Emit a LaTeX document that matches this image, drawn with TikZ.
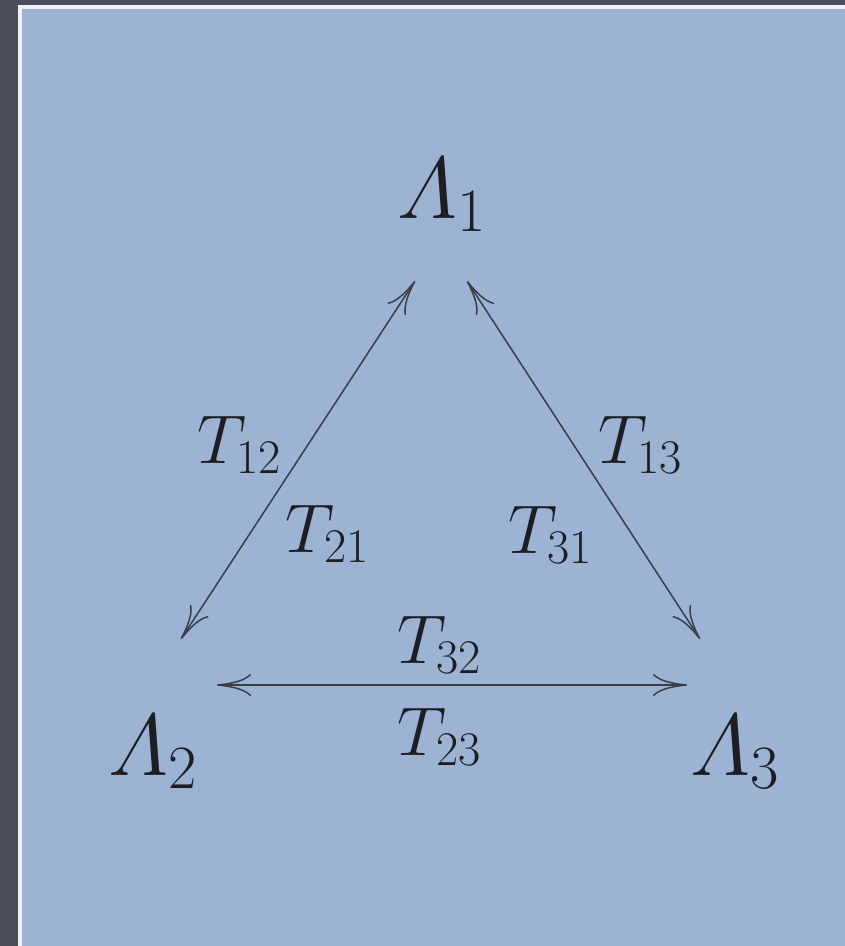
\RequirePackage{fix-cm}
\documentclass[tikz,border=0pt]{standalone}
\usepackage{amsmath}
\usetikzlibrary{arrows.meta}
\definecolor{bgdark}{HTML}{4B4F5D}
\definecolor{panel}{HTML}{9DB3D4}
\definecolor{frameline}{HTML}{EEF1F6}
\definecolor{ink}{HTML}{1C1E24}
\definecolor{wire}{HTML}{3A3E48}
\begin{document}
\begin{tikzpicture}[x=1pt,y=-1pt,
  lam/.style={anchor=base west,inner sep=0pt,text=ink,font=\fontsize{88}{100}\selectfont},
  tlab/.style={anchor=base west,inner sep=0pt,text=ink,font=\fontsize{69}{80}\selectfont},
  link/.style={draw=wire,line width=1.5pt,
    arrows={Computer Modern Rightarrow[length=34pt,width=22pt]-Computer Modern Rightarrow[length=34pt,width=22pt]}}]
\useasboundingbox (0,0) rectangle (845,946);
\fill[bgdark] (0,0) rectangle (845,946);
\fill[frameline] (18,5) rectangle (845,946);
\fill[panel] (22,9) rectangle (845,946);

\node[lam] (L1) at (397,218) {$\varLambda_1$};
\node[lam] (L2) at (108,775) {$\varLambda_2$};
\node[lam] (L3) at (690,775) {$\varLambda_3$};

\node[tlab] (T12) at (197,463) {$T_{12}$};
\node[tlab] (T21) at (285,552) {$T_{21}$};
\node[tlab] (T13) at (598,463) {$T_{13}$};
\node[tlab] (T31) at (508,553) {$T_{31}$};
\node[tlab] (T32) at (397,663) {$T_{32}$};
\node[tlab] (T23) at (397,755) {$T_{23}$};

\coordinate (e12a) at (415,281);
\coordinate (e12b) at (181,639);
\coordinate (e13a) at (467,281);
\coordinate (e13b) at (700,639);
\coordinate (e23a) at (217,685);
\coordinate (e23b) at (687,685);

\draw[link] (e12a) -- (e12b);
\draw[link] (e13a) -- (e13b);
\draw[link] (e23a) -- (e23b);
\end{tikzpicture}
\end{document}
